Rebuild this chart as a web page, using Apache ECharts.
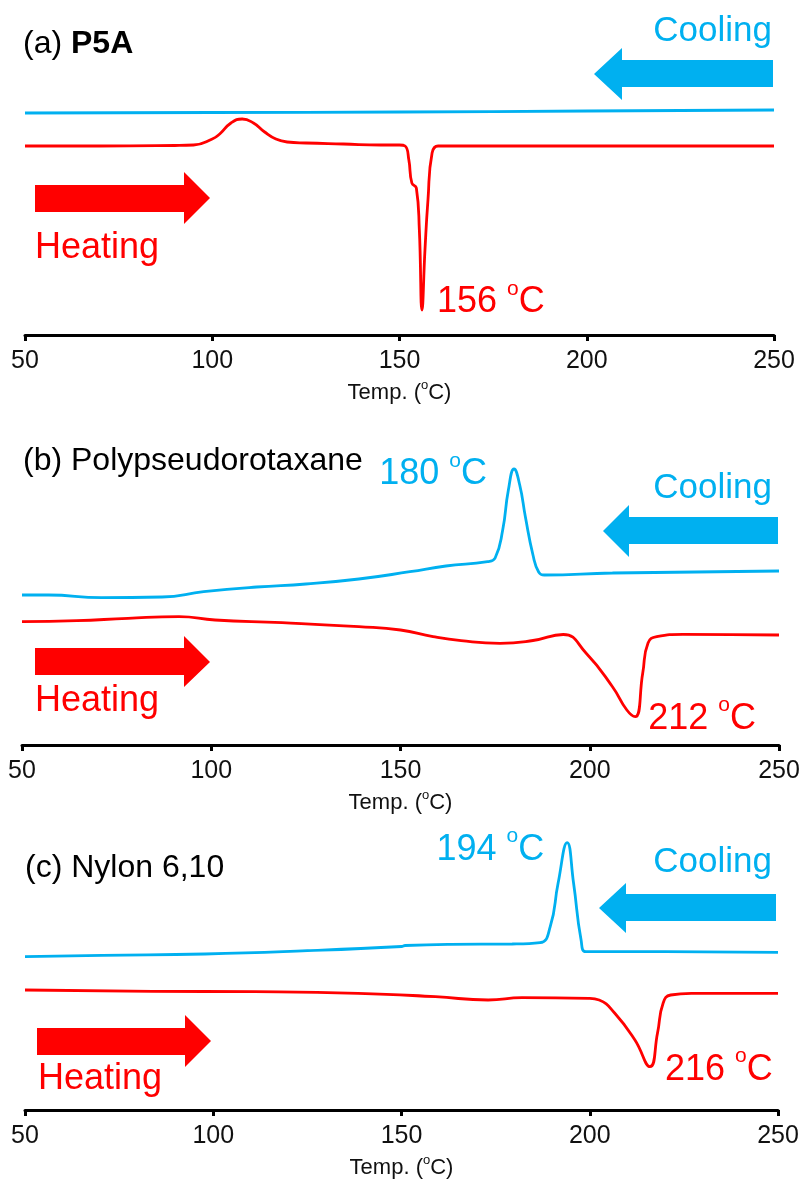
<!DOCTYPE html>
<html>
<head>
<meta charset="utf-8">
<script src="https://cdn.jsdelivr.net/npm/echarts@6/dist/echarts.min.js"></script>
<style>
  html, body { margin: 0; padding: 0; background: #fff; }
  #chart { width: 803px; height: 1187px; }
</style>
</head>
<body>
<div id="chart"></div>
<script>
// DSC traces: temperature (°C) and heat flow (a.u., exotherm up)
const tickTemps = [50, 100, 150, 200, 250];

// (a) P5A
const p5aCoolT = [50, 100, 150, 200, 250];
const p5aCoolV = [22.2, 22.25, 22.3, 22.4, 22.5];
const p5aHeatT = [50, 70, 90, 95, 100, 102, 105, 108, 111, 114, 117, 120, 125, 135, 145, 150, 151.5, 152.5, 153.3, 154.5, 155.3, 156, 156.8, 157.6, 158.7, 160.3, 165, 200, 250];
const p5aHeatV = [18.9, 18.9, 18.95, 19.0, 19.6, 20.1, 21.2, 21.6, 21.2, 20.3, 19.6, 19.3, 19.2, 19.1, 19.0, 19.0, 18.9, 17.5, 15.2, 14.7, 10.5, 2.5, 8.5, 13.5, 18.2, 18.9, 18.9, 18.9, 18.9];
const p5aPeak = 156;

// (b) Polypseudorotaxane
const pprCoolT = [50, 57, 71, 87, 98, 112, 125, 139, 152.5, 162, 173, 175, 177, 178.5, 180, 181.5, 183, 185, 186.5, 188, 206, 250];
const pprCoolV = [15.0, 15.0, 14.73, 14.8, 15.33, 15.8, 16.1, 16.6, 17.33, 17.9, 18.33, 18.7, 21.5, 25.5, 27.6, 26.0, 22.8, 19.0, 17.3, 17.0, 17.2, 17.4];
const pprCoolPeak = 180;
const pprHeatT = [50, 64.5, 78, 91.5, 101, 118.7, 139, 150, 158.6, 166, 176.3, 185, 193, 199, 206, 209.8, 212, 214, 215.4, 217.7, 224.6, 250];
const pprHeatV = [12.33, 12.43, 12.67, 12.83, 12.5, 12.23, 11.83, 11.5, 10.83, 10.43, 10.17, 10.45, 11.05, 9.2, 5.83, 3.5, 2.83, 7.2, 10.2, 10.83, 11.07, 11.0];
const pprHeatPeak = 212;

// (c) Nylon 6,10
const nylCoolT = [50, 70.5, 97.8, 125, 150, 151, 163, 179.4, 186.8, 189.5, 191.6, 194, 195.7, 197.7, 199, 220, 250];
const nylCoolV = [15.33, 15.47, 15.6, 15.93, 16.35, 16.45, 16.57, 16.6, 16.73, 18.33, 22.7, 26.73, 22.7, 17.0, 15.83, 15.83, 15.77];
const nylCoolPeak = 194;
const nylHeatT = [50, 84, 111, 138.5, 159, 173, 182, 199.8, 202.5, 206.6, 212, 216, 218, 219.5, 221.5, 227, 250];
const nylHeatV = [12.0, 11.87, 11.83, 11.67, 11.33, 11.0, 11.23, 11.17, 11.0, 9.7, 7.0, 4.33, 7.7, 10.7, 11.5, 11.67, 11.67];
const nylHeatPeak = 216;

const BLUE = '#00B0F0';
const RED = '#FF0000';
const FONT = "'Liberation Sans', Arial, Helvetica, sans-serif";

function zip(t, v) { return t.map((x, i) => [x, v[i]]); }
function valueAt(t, v, x) { return v[t.indexOf(x)]; }

const grids = [
  { left: 25, right: 29, top: 35, height: 300 },
  { left: 22, right: 24, top: 445, height: 300 },
  { left: 25, right: 25, top: 810, height: 300 }
];

// superscript "o" of the degree unit: bottom padding lifts the small glyph
const supAxis = { fontSize: 13, fontFamily: FONT, color: '#111', padding: [0, 0, 14, 0] };

const xAxes = grids.map((g, i) => ({
  type: 'value', gridIndex: i, min: tickTemps[0], max: tickTemps[tickTemps.length - 1], interval: 50,
  splitLine: { show: false },
  axisLine: { show: true, onZero: false, lineStyle: { color: '#000', width: 3 } },
  axisTick: { show: true, inside: false, length: 6, lineStyle: { color: '#000', width: 3 } },
  axisLabel: { color: '#111', fontSize: 25, fontFamily: FONT, margin: 14 },
  name: '{t|Temp. (}{s|o}{t|C)}', nameLocation: 'middle', nameGap: 44,
  nameTextStyle: { color: '#111', fontSize: 22, fontFamily: FONT,
    rich: { t: { fontSize: 22, fontFamily: FONT, color: '#111' }, s: supAxis } }
}));

const yAxes = grids.map((g, i) => ({ type: 'value', gridIndex: i, min: 0, max: 30, show: false }));

function peakLabel(temp, color, position, offset) {
  return {
    show: true, position: position, offset: offset, color: color,
    formatter: '{n|' + temp + ' }{s|o}{n|C}',
    rich: {
      n: { fontSize: 36, fontFamily: FONT, color: color },
      s: { fontSize: 21, fontFamily: FONT, color: color, padding: [0, 0, 26, 0] }
    }
  };
}

function trace(idx, t, v, color, peak, pos, off) {
  const s = {
    type: 'line', xAxisIndex: idx, yAxisIndex: idx, data: zip(t, v),
    showSymbol: false, smooth: 0.5,
    lineStyle: { color: color, width: 2.8 }, itemStyle: { color: color },
    silent: true, z: 3
  };
  if (peak !== undefined) {
    s.markPoint = {
      symbol: 'circle', symbolSize: 0, silent: true,
      data: [{ coord: [peak, valueAt(t, v, peak)], label: peakLabel(peak, color, pos, off) }]
    };
  }
  return s;
}

const series = [
  trace(0, p5aCoolT, p5aCoolV, BLUE),
  trace(0, p5aHeatT, p5aHeatV, RED, p5aPeak, 'right', [10, -8]),
  trace(1, pprCoolT, pprCoolV, BLUE, pprCoolPeak, 'left', [-22, 5]),
  trace(1, pprHeatT, pprHeatV, RED, pprHeatPeak, 'right', [8, 2]),
  trace(2, nylCoolT, nylCoolV, BLUE, nylCoolPeak, 'left', [-18, 7]),
  trace(2, nylHeatT, nylHeatV, RED, nylHeatPeak, 'right', [10, 3])
];

// direction arrows (cooling to the left, heating to the right)
function arrow(pts, color) {
  return { type: 'polygon', shape: { points: pts }, style: { fill: color }, silent: true };
}
function label(text, x, y, color, align, size, rich) {
  return {
    type: 'text', x: x, y: y, silent: true,
    style: { text: text, fill: color, font: size + 'px ' + FONT, align: align, verticalAlign: 'middle', rich: rich }
  };
}
const titleRich = {
  r: { fontSize: 32, fontFamily: FONT, fill: '#000' },
  b: { fontSize: 32, fontFamily: FONT, fontWeight: 'bold', fill: '#000' }
};

const graphic = [
  // (a)
  label('{r|(a) }{b|P5A}', 23, 44, '#000', 'left', 32, titleRich),
  label('Cooling', 772, 31, BLUE, 'right', 35),
  arrow([[773, 60], [622, 60], [622, 48], [594, 74], [622, 100], [622, 87], [773, 87]], BLUE),
  arrow([[35, 185], [184, 185], [184, 172], [210, 198], [184, 224], [184, 212], [35, 212]], RED),
  label('Heating', 35, 248, RED, 'left', 36),
  // (b)
  label('(b) Polypseudorotaxane', 23, 461, '#000', 'left', 32),
  label('Cooling', 772, 488, BLUE, 'right', 35),
  arrow([[778, 517], [629, 517], [629, 505], [603, 531], [629, 557], [629, 544], [778, 544]], BLUE),
  arrow([[35, 648], [184, 648], [184, 636], [210, 662], [184, 687], [184, 675], [35, 675]], RED),
  label('Heating', 35, 701, RED, 'left', 36),
  // (c)
  label('(c) Nylon 6,10', 25, 868, '#000', 'left', 32),
  label('Cooling', 772, 862, BLUE, 'right', 35),
  arrow([[776, 894], [626, 894], [626, 883], [599, 908], [626, 933], [626, 921], [776, 921]], BLUE),
  arrow([[37, 1028], [185, 1028], [185, 1015], [211, 1041], [185, 1067], [185, 1055], [37, 1055]], RED),
  label('Heating', 38, 1079, RED, 'left', 36)
];

const chart = echarts.init(document.getElementById('chart'), null, { renderer: 'canvas' });
chart.setOption({
  animation: false,
  backgroundColor: '#fff',
  grid: grids,
  xAxis: xAxes,
  yAxis: yAxes,
  series: series,
  graphic: graphic
});
</script>
</body>
</html>
